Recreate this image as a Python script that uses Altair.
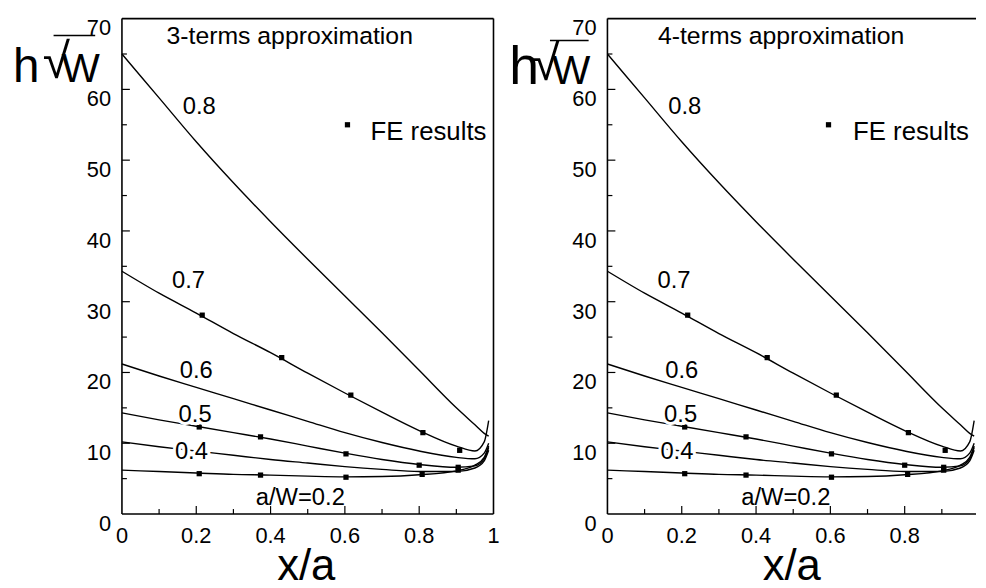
import altair as alt
import pandas as pd

FONT = "Liberation Sans"

# ---------------- data ----------------
x_grid = [0, 0.1, 0.2, 0.3, 0.4, 0.5, 0.6, 0.7, 0.8, 0.9, 0.95, 0.975, 0.987]
h_08 = [65.0, 58.8, 52.6, 46.8, 41.3, 36.0, 30.8, 25.6, 20.3, 15.0, 12.6, 11.4, 11.0]
h_07 = [34.3, 31.2, 28.4, 25.5, 22.8, 19.9, 17.1, 14.4, 11.8, 9.6, 8.9, 10.2, 13.2]
h_06 = [21.2, 19.5, 17.9, 16.3, 14.7, 13.1, 11.5, 10.1, 8.9, 8.0, 7.8, 8.6, 10.0]
h_05 = [14.3, 13.3, 12.4, 11.5, 10.6, 9.6, 8.6, 7.7, 7.0, 6.6, 6.8, 7.8, 9.4]
h_04 = [10.2, 9.5, 8.9, 8.3, 7.7, 7.2, 6.7, 6.3, 6.0, 6.0, 6.5, 7.5, 9.0]
h_02 = [6.2, 6.0, 5.8, 5.6, 5.5, 5.35, 5.25, 5.3, 5.55, 6.1, 6.9, 8.0, 9.6]
series_names = ["0.8", "0.7", "0.6", "0.5", "0.4", "0.2"]
series_vals = [h_08, h_07, h_06, h_05, h_04, h_02]

# FE results (a/W = 0.7, 0.5, 0.2)
fe_x = [0.216, 0.43, 0.616, 0.81, 0.909,
        0.208, 0.373, 0.603, 0.80, 0.905,
        0.208, 0.373, 0.603, 0.808, 0.905]
fe_h = [28.1, 22.1, 16.8, 11.5, 9.0,
        12.3, 10.9, 8.5, 6.9, 6.6,
        5.7, 5.5, 5.2, 5.6, 6.2]

# curve labels
lab_text = ["0.8", "0.7", "0.6", "0.5", "0.4", "a/W=0.2"]
lab_x = [0.208, 0.179, 0.200, 0.197, 0.187, 0.480]
lab_y = [57.5, 32.9, 20.2, 14.0, 8.7, 2.2]

# axis tick labels and ticks
y_label_vals = [0, 10, 20, 30, 40, 50, 60, 70]
y_label_text = ["0", "10", "20", "30", "40", "50", "60", "70"]
x_label_vals_left = [0, 0.2, 0.4, 0.6, 0.8, 1.0]
x_label_text_left = ["0", "0.2", "0.4", "0.6", "0.8", "1"]
x_label_vals_right = [0, 0.2, 0.4, 0.6, 0.8]
x_label_text_right = ["0", "0.2", "0.4", "0.6", "0.8"]
y_major_ticks = [10, 20, 30, 40, 50, 60]
y_minor_ticks = [5, 15, 25, 35, 45, 55, 65]
x_major_ticks = [0.2, 0.4, 0.6, 0.8]
x_minor_ticks = [0.1, 0.3, 0.5, 0.7, 0.9]

panel_titles = ["3-terms approximation", "4-terms approximation"]

# ---------------- tables ----------------
curve_df = pd.DataFrame(
    [{"x": x, "h": h, "aw": n} for n, hs in zip(series_names, series_vals) for x, h in zip(x_grid, hs)]
)
fe_df = pd.DataFrame({"x": fe_x, "h": fe_h})
lab_df = pd.DataFrame({"t": lab_text, "x": lab_x, "h": lab_y})
ylab_df = pd.DataFrame({"v": y_label_vals, "t": y_label_text})
one = pd.DataFrame({"k": [0]})

H = 500


def panel(title, title_x, xmax, width, xl_vals, xl_text, fe_mark_x, fe_text_x, hpos, right_border):
    xs = alt.Scale(domain=[0, xmax], nice=False, zero=False)
    ys = alt.Scale(domain=[0, 70], nice=False, zero=False)

    def X(f):
        return alt.X(f, scale=xs, axis=None, title=None)

    def Y(f):
        return alt.Y(f, scale=ys, axis=None, title=None)

    lines = alt.Chart(curve_df).mark_line(color="black", strokeWidth=1.4, interpolate="monotone").encode(
        x=X("x:Q"), y=Y("h:Q"), detail="aw:N")

    pts = alt.Chart(fe_df).mark_square(color="black", size=28, opacity=1).encode(
        x=X("x:Q"), y=Y("h:Q"))

    halo = alt.Chart(lab_df).mark_text(font=FONT, fontSize=24, align="center", baseline="middle",
                                       fill="white", stroke="white", strokeWidth=6).encode(
        x=X("x:Q"), y=Y("h:Q"), text="t:N")
    labs = alt.Chart(lab_df).mark_text(font=FONT, fontSize=24, align="center", baseline="middle",
                                       color="black").encode(
        x=X("x:Q"), y=Y("h:Q"), text="t:N")

    ttl = alt.Chart(pd.DataFrame({"t": [title], "x": [title_x], "h": [67.6]})).mark_text(
        font=FONT, fontSize=25, align="left", baseline="middle", color="black").encode(
        x=X("x:Q"), y=Y("h:Q"), text="t:N")

    leg_pt = alt.Chart(pd.DataFrame({"x": [fe_mark_x], "h": [55.0]})).mark_square(
        color="black", size=28, opacity=1).encode(x=X("x:Q"), y=Y("h:Q"))
    leg_tx = alt.Chart(pd.DataFrame({"t": ["FE results"], "x": [fe_text_x], "h": [54.0]})).mark_text(
        font=FONT, fontSize=26, align="left", baseline="middle", color="black").encode(
        x=X("x:Q"), y=Y("h:Q"), text="t:N")

    # tick labels
    xlabs = alt.Chart(pd.DataFrame({"v": xl_vals, "t": xl_text})).mark_text(
        font=FONT, fontSize=22, align="center", baseline="top", color="black").encode(
        x=X("v:Q"), y=alt.value(H + 12), text="t:N")
    ylabs = alt.Chart(ylab_df).mark_text(
        font=FONT, fontSize=22, align="right", baseline="top", color="black").encode(
        y=Y("v:Q"), x=alt.value(-11), text="t:N")

    # inside ticks
    ytk_major = alt.Chart(pd.DataFrame({"v": y_major_ticks})).mark_rule(color="black", strokeWidth=1.2).encode(
        y=Y("v:Q"), x=alt.value(0), x2=alt.value(8))
    ytk_minor = alt.Chart(pd.DataFrame({"v": y_minor_ticks})).mark_rule(color="black", strokeWidth=1.2).encode(
        y=Y("v:Q"), x=alt.value(0), x2=alt.value(5))
    xtk_major = alt.Chart(pd.DataFrame({"v": x_major_ticks})).mark_rule(color="black", strokeWidth=1.2).encode(
        x=X("v:Q"), y=alt.value(H), y2=alt.value(H - 8))
    xtk_minor = alt.Chart(pd.DataFrame({"v": x_minor_ticks})).mark_rule(color="black", strokeWidth=1.2).encode(
        x=X("v:Q"), y=alt.value(H), y2=alt.value(H - 5))

    # frame
    frame = [
        alt.Chart(one).mark_rule(color="black", strokeWidth=1.6).encode(
            x=alt.value(0), x2=alt.value(width), y=alt.value(0)),
        alt.Chart(one).mark_rule(color="black", strokeWidth=1.6).encode(
            x=alt.value(0), y=alt.value(0), y2=alt.value(H)),
        alt.Chart(one).mark_rule(color="black", strokeWidth=1.6).encode(
            x=alt.value(0), x2=alt.value(width), y=alt.value(H)),
    ]
    if right_border:
        frame.append(alt.Chart(one).mark_rule(color="black", strokeWidth=1.6).encode(
            x=alt.value(width), y=alt.value(0), y2=alt.value(H)))

    # y title  h sqrt(W)
    hx, hsize, rx, rsize, rbase, wx, bx1, bx2, by, base = hpos
    ytitle = [
        alt.Chart(one).mark_text(font=FONT, fontSize=hsize, align="left", baseline="alphabetic",
                                 color="black").encode(x=alt.value(hx), y=alt.value(base), text=alt.value("h")),
        alt.Chart(one).mark_text(font=FONT, fontSize=rsize, align="left", baseline="alphabetic",
                                 color="black").encode(x=alt.value(rx), y=alt.value(rbase), text=alt.value("√")),
        alt.Chart(one).mark_text(font=FONT, fontSize=41, align="left", baseline="alphabetic",
                                 color="black").encode(x=alt.value(wx), y=alt.value(base), text=alt.value("W")),
        alt.Chart(one).mark_rule(color="black", strokeWidth=1.5).encode(
            x=alt.value(bx1), x2=alt.value(bx2), y=alt.value(by)),
    ]
    # x title
    xtitle = alt.Chart(one).mark_text(font=FONT, fontSize=44, align="center", baseline="alphabetic",
                                      color="black").encode(
        x=alt.value(186), y=alt.value(567), text=alt.value("x/a"))

    layers = [lines, pts, halo, labs, ttl, leg_pt, leg_tx, xlabs, ylabs,
              ytk_major, ytk_minor, xtk_major, xtk_minor] + frame + ytitle + [xtitle]
    return alt.layer(*layers).properties(width=width, height=H)


left = panel(panel_titles[0], 0.12, 1.0, 375, x_label_vals_left, x_label_text_left,
             0.607, 0.669, (-110, 48, -80, 50, 60, -61, -69, -27, 17, 64), True)
right = panel(panel_titles[1], 0.136, 0.992, 372, x_label_vals_right, x_label_text_right,
              0.595, 0.661, (-99, 54, -76, 50, 62, -56, -58, -19, 22, 66), False)

chart = alt.hconcat(left, right, spacing=115, bounds="flush").properties(
    padding={"left": 4, "top": 6, "right": 0, "bottom": 0}
).configure_view(stroke="transparent")

chart.save("out.html", embed_options={"renderer": "svg", "actions": False})
